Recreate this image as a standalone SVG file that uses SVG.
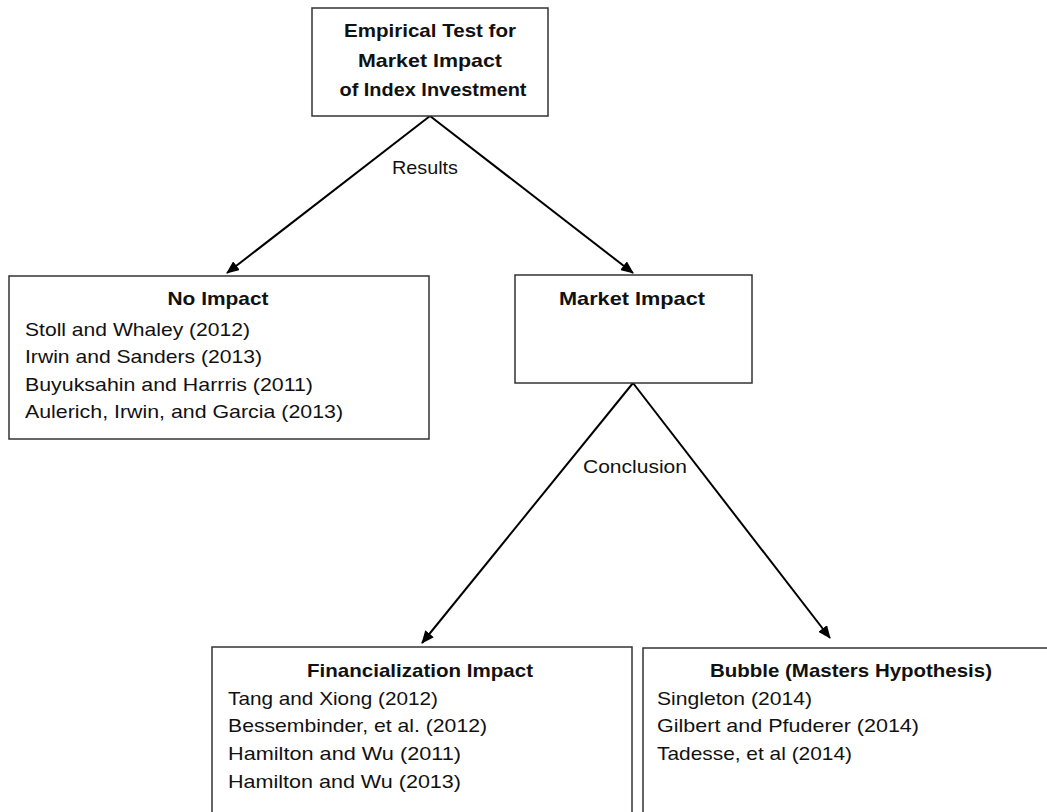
<svg xmlns="http://www.w3.org/2000/svg" width="1047" height="812" viewBox="0 0 1047 812">
<defs>
<marker id="ah" markerWidth="13" markerHeight="11" refX="12" refY="5.5" orient="auto" markerUnits="userSpaceOnUse">
<path d="M0,0 L13,5.5 L0,11 Z" fill="#000"/>
</marker>
<style>
.box{fill:#fff;stroke:#333;stroke-width:1.5}
.t{font-family:"Liberation Sans",Arial,sans-serif;font-size:19px;fill:#111}
.b{font-weight:bold;text-anchor:middle}
.c{text-anchor:middle}
.e{stroke:#000;stroke-width:2;fill:none;marker-end:url(#ah)}
</style>
</defs>
<rect width="1047" height="812" fill="#fff"/>
<g id="connectors">
<line class="e" x1="430" y1="116" x2="227" y2="273"/>
<line class="e" x1="430" y1="116" x2="633" y2="273"/>
<line class="e" x1="633" y1="383" x2="422" y2="643"/>
<line class="e" x1="633" y1="383" x2="830" y2="638"/>
<text class="t c" x="425" y="174" textLength="66" lengthAdjust="spacingAndGlyphs">Results</text>
<text class="t c" x="635" y="473" textLength="104" lengthAdjust="spacingAndGlyphs">Conclusion</text>
</g>
<g id="root">
<rect class="box" x="312" y="8" width="236" height="108"/>
<text class="t b" x="430" y="37" textLength="172" lengthAdjust="spacingAndGlyphs">Empirical Test for</text>
<text class="t b" x="430" y="67" textLength="144" lengthAdjust="spacingAndGlyphs">Market Impact</text>
<text class="t b" x="433" y="96" textLength="187" lengthAdjust="spacingAndGlyphs">of Index Investment</text>
</g>
<g id="no-impact">
<rect class="box" x="9" y="276" width="420" height="163"/>
<text class="t b" x="218" y="305" textLength="101" lengthAdjust="spacingAndGlyphs">No Impact</text>
<text class="t" x="25" y="336" textLength="225" lengthAdjust="spacingAndGlyphs">Stoll and Whaley (2012)</text>
<text class="t" x="25" y="363" textLength="237" lengthAdjust="spacingAndGlyphs">Irwin and Sanders (2013)</text>
<text class="t" x="25" y="391" textLength="288" lengthAdjust="spacingAndGlyphs">Buyuksahin and Harrris (2011)</text>
<text class="t" x="25" y="418" textLength="318" lengthAdjust="spacingAndGlyphs">Aulerich, Irwin, and Garcia (2013)</text>
</g>
<g id="market-impact">
<rect class="box" x="515" y="275" width="237" height="108"/>
<text class="t b" x="632" y="305" textLength="146" lengthAdjust="spacingAndGlyphs">Market Impact</text>
</g>
<g id="financialization">
<rect class="box" x="212" y="647" width="420" height="180"/>
<text class="t b" x="420" y="677" textLength="226" lengthAdjust="spacingAndGlyphs">Financialization Impact</text>
<text class="t" x="228" y="705" textLength="210" lengthAdjust="spacingAndGlyphs">Tang and Xiong (2012)</text>
<text class="t" x="228" y="732" textLength="259" lengthAdjust="spacingAndGlyphs">Bessembinder, et al. (2012)</text>
<text class="t" x="228" y="760" textLength="233" lengthAdjust="spacingAndGlyphs">Hamilton and Wu (2011)</text>
<text class="t" x="228" y="788" textLength="233" lengthAdjust="spacingAndGlyphs">Hamilton and Wu (2013)</text>
</g>
<g id="bubble">
<rect class="box" x="643" y="648" width="420" height="180"/>
<text class="t b" x="851" y="677" textLength="282" lengthAdjust="spacingAndGlyphs">Bubble (Masters Hypothesis)</text>
<text class="t" x="657" y="705" textLength="155" lengthAdjust="spacingAndGlyphs">Singleton (2014)</text>
<text class="t" x="657" y="732" textLength="262" lengthAdjust="spacingAndGlyphs">Gilbert and Pfuderer (2014)</text>
<text class="t" x="657" y="760" textLength="195" lengthAdjust="spacingAndGlyphs">Tadesse, et al (2014)</text>
</g>
</svg>
